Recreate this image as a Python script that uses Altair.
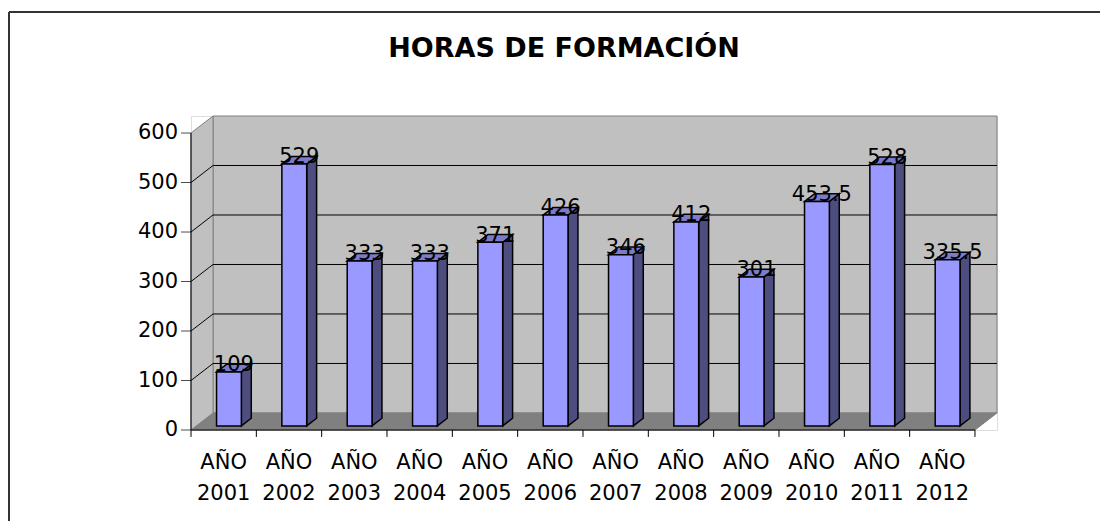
import altair as alt
import pandas as pd

# ---- data ----
categories = ["AÑO 2001", "AÑO 2002", "AÑO 2003", "AÑO 2004", "AÑO 2005", "AÑO 2006",
              "AÑO 2007", "AÑO 2008", "AÑO 2009", "AÑO 2010", "AÑO 2011", "AÑO 2012"]
values = [109, 529, 333, 333, 371, 426, 346, 412, 301, 453.5, 528, 335.5]
y_ticks = [0, 100, 200, 300, 400, 500, 600]
title_text = "HORAS DE FORMACIÓN"

# ---- 3D geometry (style) ----
N = len(categories)
XMIN, XMAX = -0.5, N - 0.5
YMAX = y_ticks[-1]
DX = 0.337   # depth shift, category units
DY = 34.4    # depth shift, value units
F0, F1 = 0.24, 0.69  # bar front/back depth fractions
HW = 0.19    # half bar width
FONT = "DejaVu Sans"

W, H = 806, 314
PAD_L, PAD_T = 183, 108

xs = alt.Scale(domain=[XMIN, XMAX + DX], nice=False, zero=False)
ys = alt.Scale(domain=[0, YMAX + DY], nice=False, zero=False)


def X(f):
    return alt.X(f, type="quantitative", scale=xs, axis=None)


def Y(f):
    return alt.Y(f, type="quantitative", scale=ys, axis=None)


# back wall
back = pd.DataFrame([{"x": XMIN + DX, "x2": XMAX + DX, "y": DY, "y2": YMAX + DY}])
back_layer = alt.Chart(back).mark_rect(fill="#C0C0C0", stroke="#808080", strokeWidth=1).encode(
    x=X("x"), x2="x2:Q", y=Y("y"), y2="y2:Q")

# floor
floor = pd.DataFrame([{"y": 0, "x": XMIN, "x2": XMAX}, {"y": DY, "x": XMIN + DX, "x2": XMAX + DX}])
floor_layer = alt.Chart(floor).mark_area(orient="horizontal", fill="#808080", stroke="#808080",
                                         strokeWidth=1).encode(y=Y("y"), x=X("x"), x2="x2:Q")

# left side wall
lwall = pd.DataFrame([{"x": XMIN, "y": 0, "y2": YMAX}, {"x": XMIN + DX, "y": DY, "y2": YMAX + DY}])
lwall_layer = alt.Chart(lwall).mark_area(fill="#C0C0C0", stroke="#808080", strokeWidth=1).encode(
    x=X("x"), y=Y("y"), y2="y2:Q")

# gridlines on back wall
grid_vals = y_ticks[1:-1]
grid = pd.DataFrame([{"x": XMIN + DX, "x2": XMAX + DX, "y": k + DY} for k in grid_vals])
grid_layer = alt.Chart(grid).mark_rule(color="black", strokeWidth=1).encode(
    x=X("x"), x2="x2:Q", y=Y("y"))

# diagonal gridlines on side wall
diag_rows = []
for k in grid_vals:
    diag_rows.append({"k": k, "x": XMIN, "y": k})
    diag_rows.append({"k": k, "x": XMIN + DX, "y": k + DY})
diag_layer = alt.Chart(pd.DataFrame(diag_rows)).mark_line(color="black", strokeWidth=1).encode(
    x=X("x"), y=Y("y"), detail="k:N")

# bars
front_rows, side_rows, top_rows, lab_rows = [], [], [], []
for i, v in enumerate(values):
    x0 = i - HW + F0 * DX
    x1 = i + HW + F0 * DX
    sx = (F1 - F0) * DX
    sy = (F1 - F0) * DY
    front_rows.append({"i": i, "x": x0, "x2": x1, "y": F0 * DY, "y2": v + F0 * DY})
    side_rows.append({"i": i, "x": x1, "y": F0 * DY, "y2": v + F0 * DY})
    side_rows.append({"i": i, "x": x1 + sx, "y": F0 * DY + sy, "y2": v + F0 * DY + sy})
    top_rows.append({"i": i, "y": v + F0 * DY, "x": x0, "x2": x1})
    top_rows.append({"i": i, "y": v + F0 * DY + sy, "x": x0 + sx, "x2": x1 + sx})
    lab_rows.append({"i": i, "x": i + (F0 + F1) / 2 * DX, "y": v + F1 * DY, "t": f"{v:g}"})

front_layer = alt.Chart(pd.DataFrame(front_rows)).mark_rect(
    fill="#9999FF", stroke="black", strokeWidth=1.5).encode(x=X("x"), x2="x2:Q", y=Y("y"), y2="y2:Q")
side_layer = alt.Chart(pd.DataFrame(side_rows)).mark_area(
    fill="#4D4D80", stroke="black", strokeWidth=1.5).encode(x=X("x"), y=Y("y"), y2="y2:Q", detail="i:N")
top_layer = alt.Chart(pd.DataFrame(top_rows)).mark_area(
    orient="horizontal", fill="#7B7BCC", stroke="black", strokeWidth=1.5).encode(
    y=Y("y"), x=X("x"), x2="x2:Q", detail="i:N")
label_layer = alt.Chart(pd.DataFrame(lab_rows)).mark_text(
    font=FONT, fontSize=21, color="black", baseline="middle", align="center", dy=1).encode(
    x=X("x"), y=Y("y"), text="t:N")

# category labels under the front axis (two lines each)
cat_df = pd.DataFrame({"i": list(range(N)), "c": categories})
cat_layer = alt.Chart(cat_df).mark_text(
    font=FONT, fontSize=21, color="black", baseline="top", align="center",
    lineBreak=" ", lineHeight=31, dy=22).encode(
    x=X("i"), y=alt.value(H), text="c:N")

# value-axis labels and ticks on the front edge
yt_df = pd.DataFrame({"v": y_ticks, "t": [str(t) for t in y_ticks], "x": [XMIN] * len(y_ticks)})
ylab_layer = alt.Chart(yt_df).mark_text(
    font=FONT, fontSize=21, color="black", baseline="middle", align="right", dx=-13).encode(
    x=X("x"), y=Y("v"), text="t:N")
ytick_layer = alt.Chart(yt_df).mark_tick(
    color="black", thickness=1, size=10, orient="horizontal", xOffset=-5).encode(
    x=X("x"), y=Y("v"))

# front axis lines and category ticks
yaxis_line = alt.Chart(pd.DataFrame([{"x": XMIN, "y": 0, "y2": YMAX}])).mark_rule(
    color="black", strokeWidth=1).encode(x=X("x"), y=Y("y"), y2="y2:Q")
xaxis_line = alt.Chart(pd.DataFrame([{"x": XMIN, "x2": XMAX, "y": 0}])).mark_rule(
    color="black", strokeWidth=1).encode(x=X("x"), x2="x2:Q", y=Y("y"))
bounds = [XMIN + j for j in range(N + 1)]
xticks = alt.Chart(pd.DataFrame({"x": bounds, "y": [0] * len(bounds), "y2": [-14] * len(bounds)})).mark_rule(
    color="black", strokeWidth=1).encode(x=X("x"), y=Y("y"), y2="y2:Q")

# title
title_layer = alt.Chart(pd.DataFrame({"t": [title_text]})).mark_text(
    font=FONT, fontSize=27, fontWeight="bold", color="black", align="center",
    baseline="alphabetic").encode(x=alt.value(373), y=alt.value(-59), text="t:N")

# chart-area border (top and left edges visible)
border_top = alt.Chart(pd.DataFrame({"a": [0]})).mark_rule(color="#333333", strokeWidth=2).encode(
    x=alt.value(-PAD_L + 1), x2=alt.value(W + 200), y=alt.value(-PAD_T + 4))
border_left = alt.Chart(pd.DataFrame({"a": [0]})).mark_rule(color="#333333", strokeWidth=2).encode(
    x=alt.value(-PAD_L + 1), y=alt.value(-PAD_T + 4), y2=alt.value(H + 200))

chart = alt.layer(
    back_layer, floor_layer, lwall_layer, grid_layer, diag_layer,
    side_layer, top_layer, front_layer, label_layer, cat_layer,
    ylab_layer, ytick_layer, yaxis_line, xaxis_line, xticks,
    title_layer, border_top, border_left,
).properties(
    width=W, height=H,
    autosize=alt.AutoSizeParams(type="none"),
    padding={"left": PAD_L, "top": PAD_T, "right": 1092 - PAD_L - W, "bottom": 513 - PAD_T - H},
).configure_view(stroke=None).configure(background="white")

chart.save("out.html", embed_options={"renderer": "svg", "actions": False})
